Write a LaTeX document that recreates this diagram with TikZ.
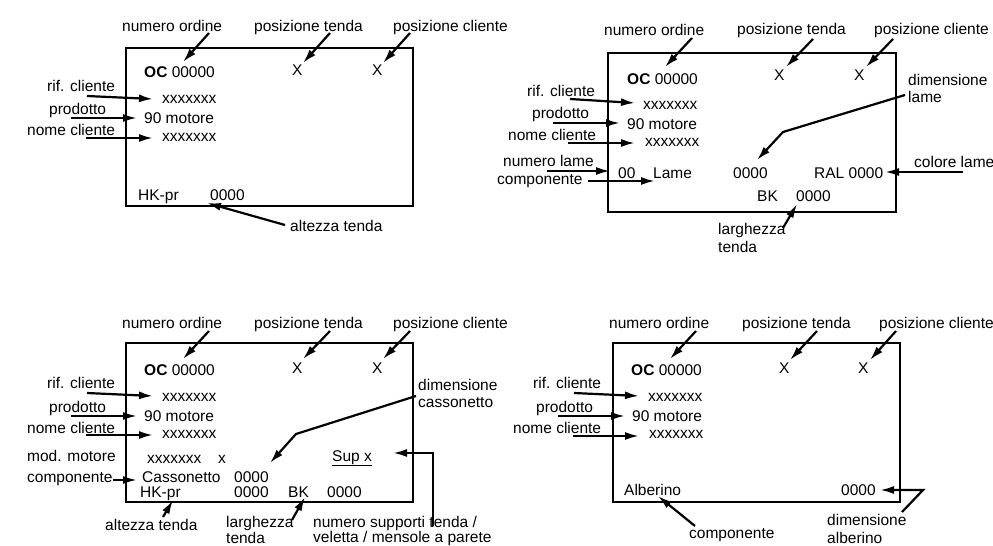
\documentclass[tikz,border=0pt]{standalone}
\usepackage{fontspec}
\setmainfont{Liberation Sans}
\usetikzlibrary{arrows.meta}
\begin{document}
\begin{tikzpicture}[x=1pt,y=-1pt,
  lbl/.style={inner sep=0pt, anchor=base west, font=\fontsize{15.5}{18}\selectfont},
  arr/.style={line width=2.2pt, line join=miter, -{Latex[length=14pt,width=8pt]}},
  frame/.style={line width=2.6pt}]
\useasboundingbox (0,0) rectangle (993,546);

% ================= Panel 1 (top left) =================
\draw[frame] (126,48) rectangle (413,206);
\node[lbl] (p1no) at (122,31) {numero ordine};
\node[lbl] (p1oc) at (144,77) {\textbf{OC} 00000};
\node[lbl] (p1pt) at (254,31) {posizione tenda};
\node[lbl] (p1x1) at (292,75) {X};
\node[lbl] (p1pc) at (393,31) {posizione cliente};
\node[lbl] (p1x2) at (372,75) {X};
\node[lbl] (p1rc) at (47,91) {rif. cliente};
\node[lbl] (p1xa) at (162,103) {xxxxxxx};
\node[lbl] (p1pr) at (49,114) {prodotto};
\node[lbl] (p1mo) at (144,123) {90 motore};
\node[lbl] (p1nc) at (27,135) {nome cliente};
\node[lbl] (p1xb) at (162,141) {xxxxxxx};
\node[lbl] (p1hk) at (138,200) {HK-pr};
\node[lbl] (p1h0) at (210,200) {0000};
\node[lbl] (p1at) at (290,231) {altezza tenda};
\draw[arr] (209,33) coordinate (p1a1) -- (183,62) coordinate (p1b1);
\draw[arr] (330,33) coordinate (p1a2) -- (303,63) coordinate (p1b2);
\draw[arr] (410,33) coordinate (p1a3) -- (383,63) coordinate (p1b3);
\draw[arr] (87,96) coordinate (p1a4) -- (153,99) coordinate (p1b4);
\draw[arr] (71,118) coordinate (p1a5) -- (137,118) coordinate (p1b5);
\draw[arr] (86,138) coordinate (p1a6) -- (153,138) coordinate (p1b6);
\draw[arr] (285,225) coordinate (p1a7) -- (207,203) coordinate (p1b7);

% ================= Panel 2 (top right) =================
\draw[frame] (608,53) rectangle (896,212);
\node[lbl] (p2no) at (604,35) {numero ordine};
\node[lbl] (p2oc) at (627,84) {\textbf{OC} 00000};
\node[lbl] (p2pt) at (737,34) {posizione tenda};
\node[lbl] (p2x1) at (774,80) {X};
\node[lbl] (p2pc) at (874,34) {posizione cliente};
\node[lbl] (p2x2) at (854,80) {X};
\node[lbl] (p2d1) at (908,85) {dimensione};
\node[lbl] (p2d2) at (908,102) {lame};
\node[lbl] (p2rc) at (527,96) {rif. cliente};
\node[lbl] (p2xa) at (643,109) {xxxxxxx};
\node[lbl] (p2pr) at (532,118) {prodotto};
\node[lbl] (p2mo) at (627,129) {90 motore};
\node[lbl] (p2nc) at (508,140) {nome cliente};
\node[lbl] (p2xb) at (645,146) {xxxxxxx};
\node[lbl] (p2nl) at (503,166) {numero lame};
\node[lbl] (p2co) at (497,184) {componente};
\node[lbl] (p200) at (618,178) {00};
\node[lbl] (p2la) at (653,178) {Lame};
\node[lbl] (p2l0) at (733,178) {0000};
\node[lbl] (p2ra) at (814,178) {RAL 0000};
\node[lbl] (p2cl) at (914,167) {colore lame};
\node[lbl] (p2bk) at (757,201) {BK};
\node[lbl] (p2b0) at (796,201) {0000};
\node[lbl] (p2lg) at (718,234) {larghezza};
\node[lbl] (p2te) at (718,252) {tenda};
\draw[arr] (692,38) coordinate (p2a1) -- (665,67) coordinate (p2b1);
\draw[arr] (813,39) coordinate (p2a2) -- (786,67) coordinate (p2b2);
\draw[arr] (893,39) coordinate (p2a3) -- (866,67) coordinate (p2b3);
\draw[arr] (570,99) coordinate (p2a4) -- (635,103) coordinate (p2b4);
\draw[arr] (553,123) coordinate (p2a5) -- (620,123) coordinate (p2b5);
\draw[arr] (568,143) coordinate (p2a6) -- (635,143) coordinate (p2b6);
\draw[arr] (547,171) coordinate (p2a7) -- (610,171) coordinate (p2b7);
\draw[arr] (588,181) coordinate (p2a8) -- (655,181) coordinate (p2b8);
\draw[arr] (905,95) coordinate (p2a9) -- (783,132) -- (757,160) coordinate (p2b9);
\draw[arr] (963,172) coordinate (p2a10) -- (885,172) coordinate (p2b10);
\draw[arr] (783,228) coordinate (p2a11) -- (797,204) coordinate (p2b11);

% ================= Panel 3 (bottom left) =================
\draw[frame] (126,343) rectangle (413,502);
\node[lbl] (p3no) at (122,328) {numero ordine};
\node[lbl] (p3oc) at (144,375) {\textbf{OC} 00000};
\node[lbl] (p3pt) at (254,328) {posizione tenda};
\node[lbl] (p3x1) at (292,373) {X};
\node[lbl] (p3pc) at (393,328) {posizione cliente};
\node[lbl] (p3x2) at (372,373) {X};
\node[lbl] (p3d1) at (418,390) {dimensione};
\node[lbl] (p3d2) at (418,407) {cassonetto};
\node[lbl] (p3rc) at (47,388) {rif. cliente};
\node[lbl] (p3xa) at (162,401) {xxxxxxx};
\node[lbl] (p3pr) at (49,412) {prodotto};
\node[lbl] (p3mo) at (144,421) {90 motore};
\node[lbl] (p3nc) at (27,433) {nome cliente};
\node[lbl] (p3xb) at (162,438) {xxxxxxx};
\node[lbl] (p3mm) at (27,461) {mod. motore};
\node[lbl] (p3xc) at (147,463) {xxxxxxx};
\node[lbl] (p3xd) at (218,463) {x};
\node[lbl] (p3su) at (332,461) {\underline{Sup x}};
\node[lbl] (p3co) at (27,482) {componente};
\node[lbl] (p3ca) at (142,482) {Cassonetto};
\node[lbl] (p3c0) at (234,482) {0000};
\node[lbl] (p3hk) at (140,497) {HK-pr};
\node[lbl] (p3h0) at (234,497) {0000};
\node[lbl] (p3bk) at (288,497) {BK};
\node[lbl] (p3b0) at (327,497) {0000};
\node[lbl] (p3at) at (105,530) {altezza tenda};
\node[lbl] (p3lg) at (226,527) {larghezza};
\node[lbl] (p3te) at (226,543) {tenda};
\node[lbl] (p3n1) at (313,527) {numero supporti tenda /};
\node[lbl] (p3n2) at (313,542) {veletta / mensole a parete};
\draw[arr] (209,331) coordinate (p3a1) -- (183,359) coordinate (p3b1);
\draw[arr] (330,331) coordinate (p3a2) -- (303,359) coordinate (p3b2);
\draw[arr] (410,331) coordinate (p3a3) -- (383,359) coordinate (p3b3);
\draw[arr] (87,393) coordinate (p3a4) -- (153,396) coordinate (p3b4);
\draw[arr] (71,416) coordinate (p3a5) -- (137,416) coordinate (p3b5);
\draw[arr] (86,435) coordinate (p3a6) -- (153,435) coordinate (p3b6);
\draw[arr] (416,396) coordinate (p3a7) -- (296,434) -- (270,463) coordinate (p3b7);
\draw[arr] (113,480) coordinate (p3a8) -- (137,480) coordinate (p3b8);
\draw[arr] (433,526) coordinate (p3a9) -- (433,453) -- (393,453) coordinate (p3b9);
\draw[arr] (163,517) coordinate (p3a10) -- (173,500) coordinate (p3b10);
\draw[arr] (292,520) coordinate (p3a11) -- (305,497) coordinate (p3b11);

% ================= Panel 4 (bottom right) =================
\draw[frame] (613,343) rectangle (900,502);
\node[lbl] (p4no) at (609,328) {numero ordine};
\node[lbl] (p4oc) at (631,375) {\textbf{OC} 00000};
\node[lbl] (p4pt) at (742,328) {posizione tenda};
\node[lbl] (p4x1) at (779,373) {X};
\node[lbl] (p4pc) at (879,328) {posizione cliente};
\node[lbl] (p4x2) at (858,373) {X};
\node[lbl] (p4rc) at (533,388) {rif. cliente};
\node[lbl] (p4xa) at (648,401) {xxxxxxx};
\node[lbl] (p4pr) at (536,412) {prodotto};
\node[lbl] (p4mo) at (632,421) {90 motore};
\node[lbl] (p4nc) at (513,433) {nome cliente};
\node[lbl] (p4xb) at (649,438) {xxxxxxx};
\node[lbl] (p4al) at (624,495) {Alberino};
\node[lbl] (p4a0) at (841,495) {0000};
\node[lbl] (p4co) at (689,538) {componente};
\node[lbl] (p4d1) at (827,525) {dimensione};
\node[lbl] (p4d2) at (827,543) {alberino};
\draw[arr] (696,331) coordinate (p4a1) -- (670,359) coordinate (p4b1);
\draw[arr] (817,331) coordinate (p4a2) -- (790,360) coordinate (p4b2);
\draw[arr] (896,331) coordinate (p4a3) -- (870,360) coordinate (p4b3);
\draw[arr] (574,393) coordinate (p4a4) -- (639,396) coordinate (p4b4);
\draw[arr] (558,416) coordinate (p4a5) -- (625,416) coordinate (p4b5);
\draw[arr] (573,436) coordinate (p4a6) -- (639,436) coordinate (p4b6);
\draw[arr] (695,526) coordinate (p4a7) -- (658,496) coordinate (p4b7);
\draw[arr] (902,512) coordinate (p4a8) -- (923,490) -- (880,490) coordinate (p4b8);
\end{tikzpicture}
\end{document}
